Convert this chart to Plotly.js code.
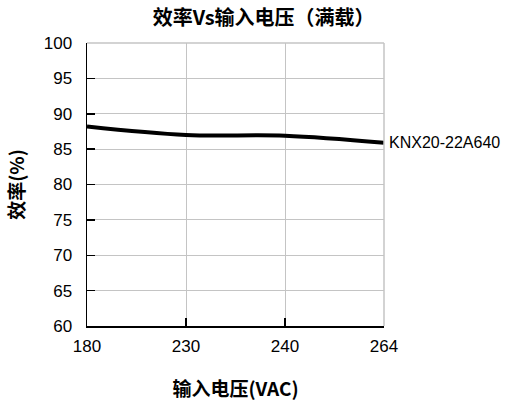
<!DOCTYPE html>
<html>
<head>
<meta charset="utf-8">
<script src="https://cdn.plot.ly/plotly-3.0.1.min.js"></script>
<style>html,body{margin:0;padding:0;background:#fff;}#chart{width:517px;height:408px;}</style>
</head>
<body>
<div id="chart"></div>
<script>
const voltages = ["180", "230", "240", "264"];
const efficiency = [88.2, 87.0, 86.9, 85.9];
const seriesName = "KNX20-22A640";
const yMin = 60, yMax = 100, yStep = 5;

const font = "'Noto Sans CJK SC', 'Noto Sans', sans-serif";
const numFont = "'Liberation Sans', 'Noto Sans CJK SC', sans-serif";

const trace = {
  x: voltages, y: efficiency, type: 'scatter', mode: 'lines',
  line: {color: '#000', width: 4, shape: 'spline', smoothing: 1},
  name: seriesName, showlegend: false
};

const layout = {
  width: 517, height: 408,
  margin: {l: 87, r: 133, t: 43, b: 82},
  paper_bgcolor: '#fff', plot_bgcolor: '#fff',
  font: {family: font, color: '#000', size: 16},
  title: {text: '<b>效率Vs输入电压（满载）</b>', x: 0.51, xanchor: 'center', y: 0.955, yanchor: 'middle',
          font: {family: font, size: 20, color: '#000'}},
  xaxis: {
    type: 'category', range: [0, 3],
    showgrid: true, gridcolor: '#c4c4c4', gridwidth: 1,
    showline: true, linecolor: '#000', linewidth: 1.5,
    ticks: 'inside', ticklen: 8, tickcolor: '#000', tickwidth: 1.5,
    tickfont: {size: 17, family: numFont},
    ticklabelstandoff: 4, zeroline: false,
    title: {text: '<b>输入电压(VAC)</b>', standoff: 28, font: {size: 19, family: font}}
  },
  yaxis: {
    range: [yMin, yMax], tickmode: 'linear', tick0: yMin, dtick: yStep,
    showgrid: true, gridcolor: '#c4c4c4', gridwidth: 1.2,
    showline: true, linecolor: '#000', linewidth: 1.5,
    ticks: 'inside', ticklen: 8, tickcolor: '#000', tickwidth: 1.5,
    tickfont: {size: 17, family: numFont},
    ticklabelstandoff: 10, zeroline: false,
    title: {text: '<b>效率(%)</b>', standoff: 14, font: {size: 19, family: font}}
  },
  shapes: [
    {type: 'line', xref: 'paper', yref: 'paper', x0: 0, x1: 1, y0: 1, y1: 1, line: {color: '#c4c4c4', width: 1.5}},
    {type: 'line', xref: 'paper', yref: 'paper', x0: 1, x1: 1, y0: 0, y1: 1, line: {color: '#c4c4c4', width: 1.5}}
  ],
  annotations: [{
    x: 1, y: efficiency[efficiency.length - 1], xref: 'paper', yref: 'y', text: seriesName, showarrow: false,
    xanchor: 'left', yanchor: 'middle', xshift: 3, font: {size: 16, family: numFont, color: '#000'}
  }]
};

Plotly.newPlot('chart', [trace], layout, {displayModeBar: false, staticPlot: true});
</script>
</body>
</html>
